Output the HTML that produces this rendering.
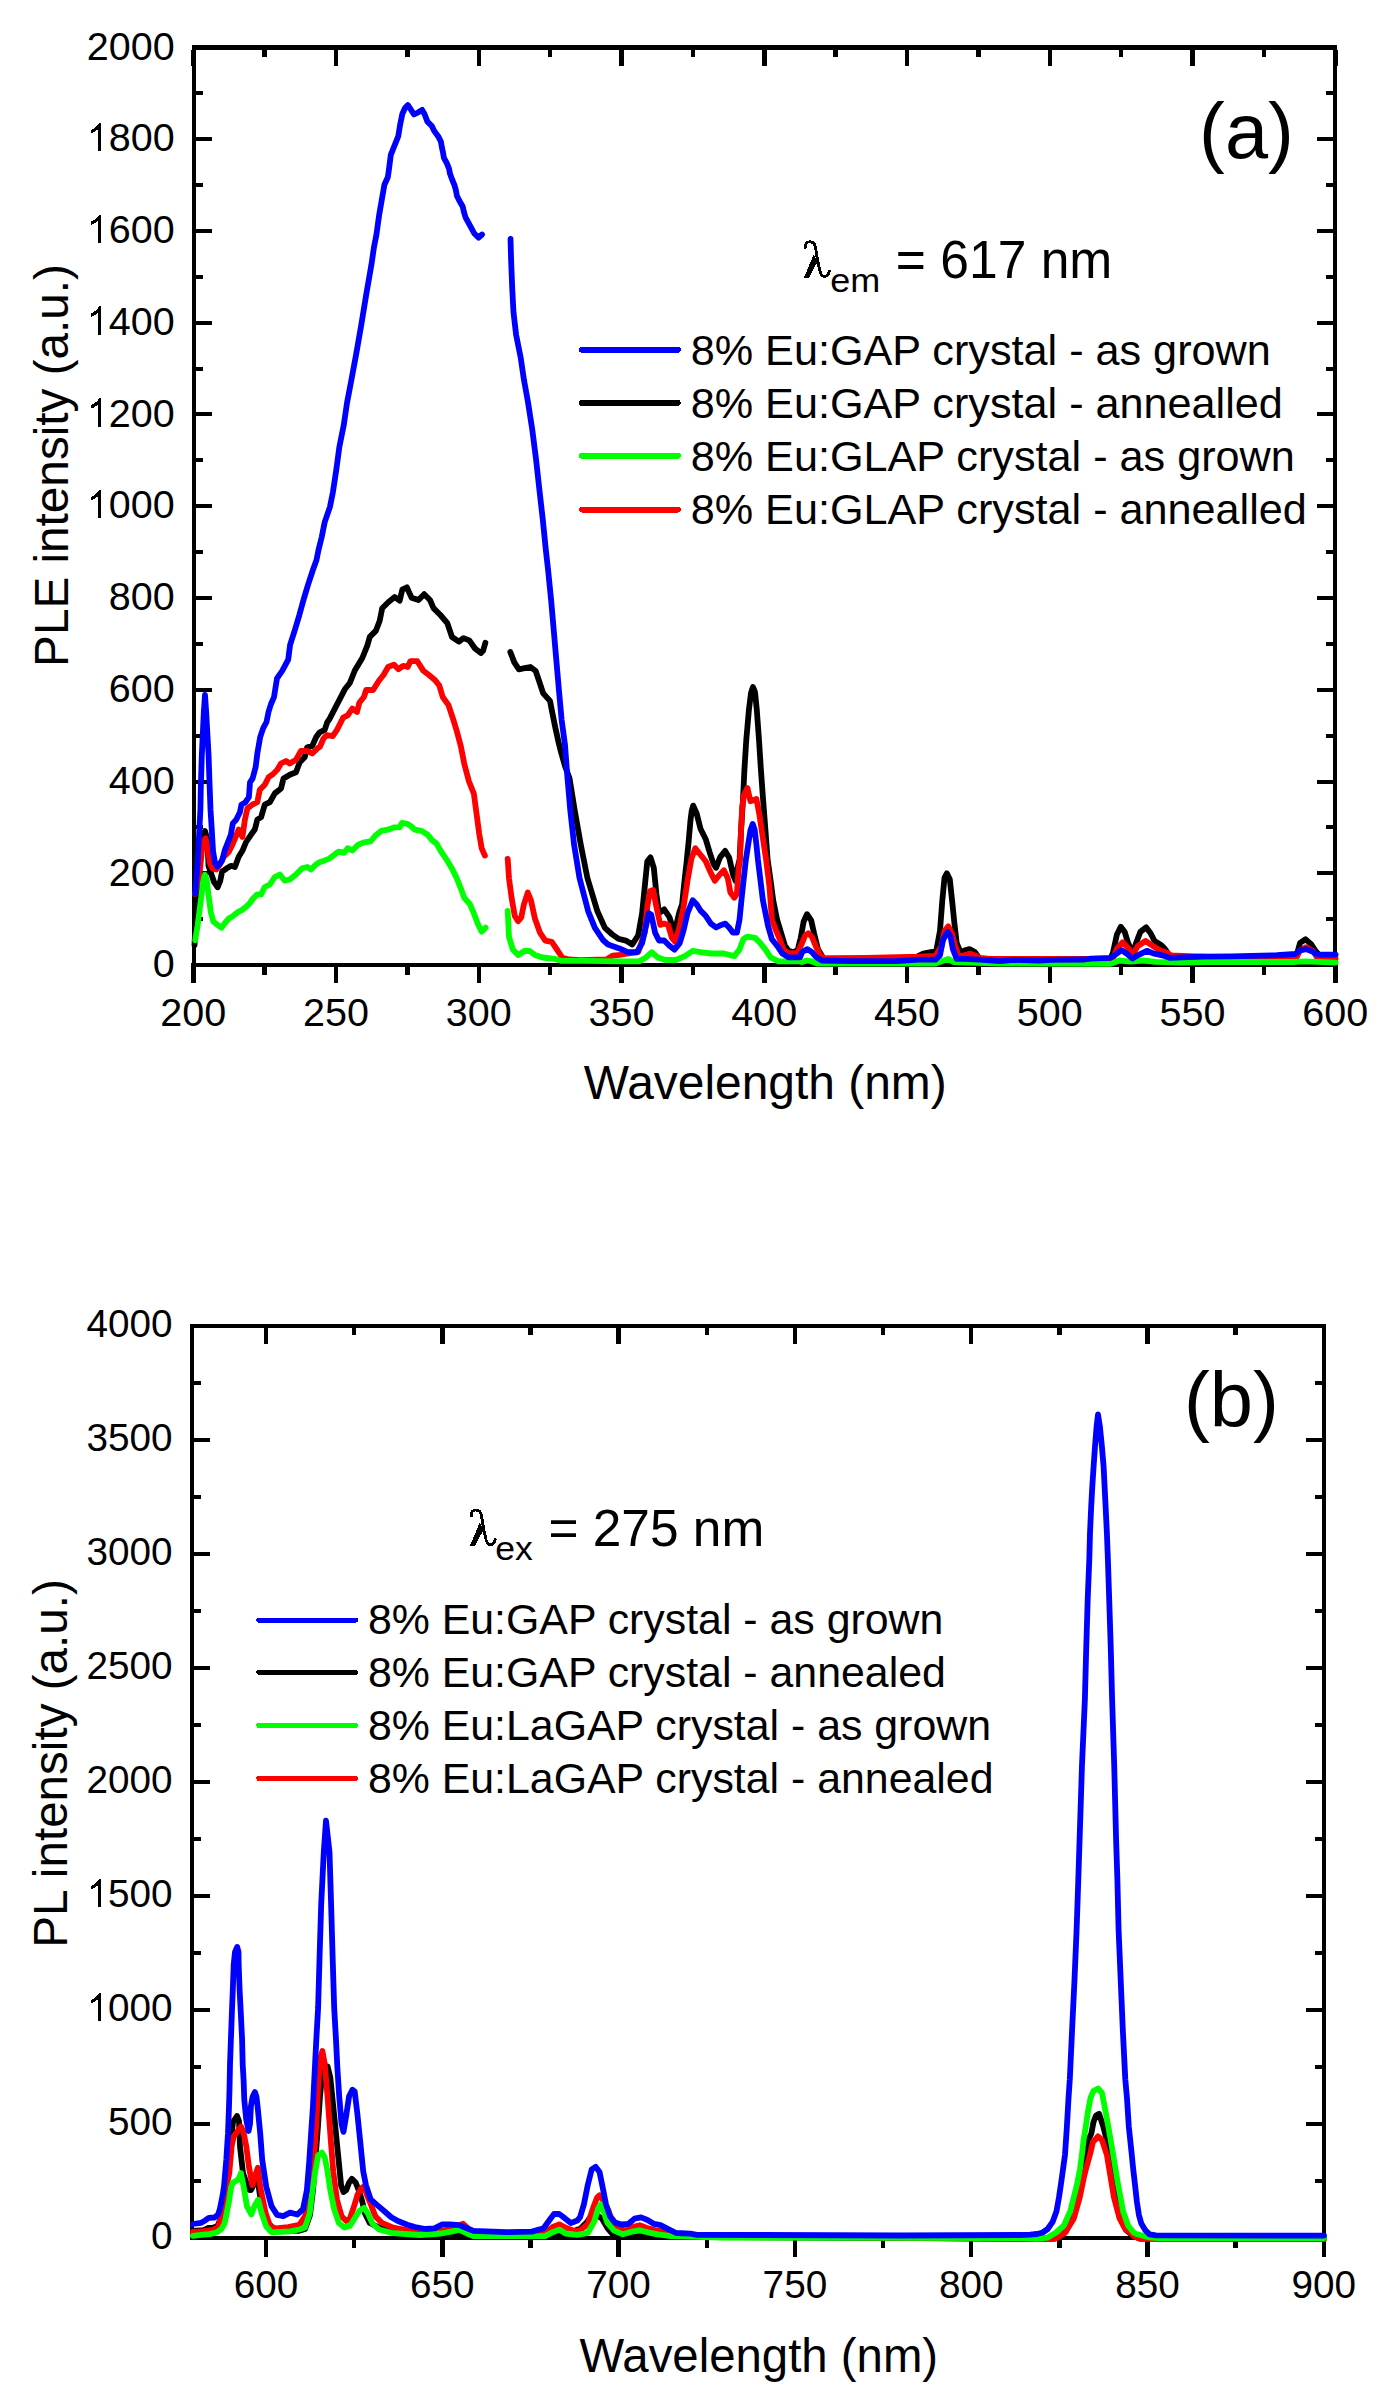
<!DOCTYPE html><html><head><meta charset="utf-8"><style>html,body{margin:0;padding:0;background:#fff;}svg{display:block;}</style></head><body><svg xmlns="http://www.w3.org/2000/svg" width="1386" height="2406" viewBox="0 0 1386 2406" font-family='"Liberation Sans", sans-serif' shape-rendering="crispEdges">
<rect width="1386" height="2406" fill="#fff"/>
<rect x="196" y="963.1" width="16" height="4" fill="#000"/>
<rect x="1317" y="963.1" width="16" height="4" fill="#000"/>
<rect x="196" y="917.21" width="7" height="4" fill="#000"/>
<rect x="1326" y="917.21" width="7" height="4" fill="#000"/>
<rect x="196" y="871.32" width="16" height="4" fill="#000"/>
<rect x="1317" y="871.32" width="16" height="4" fill="#000"/>
<rect x="196" y="825.43" width="7" height="4" fill="#000"/>
<rect x="1326" y="825.43" width="7" height="4" fill="#000"/>
<rect x="196" y="779.54" width="16" height="4" fill="#000"/>
<rect x="1317" y="779.54" width="16" height="4" fill="#000"/>
<rect x="196" y="733.65" width="7" height="4" fill="#000"/>
<rect x="1326" y="733.65" width="7" height="4" fill="#000"/>
<rect x="196" y="687.76" width="16" height="4" fill="#000"/>
<rect x="1317" y="687.76" width="16" height="4" fill="#000"/>
<rect x="196" y="641.87" width="7" height="4" fill="#000"/>
<rect x="1326" y="641.87" width="7" height="4" fill="#000"/>
<rect x="196" y="595.98" width="16" height="4" fill="#000"/>
<rect x="1317" y="595.98" width="16" height="4" fill="#000"/>
<rect x="196" y="550.09" width="7" height="4" fill="#000"/>
<rect x="1326" y="550.09" width="7" height="4" fill="#000"/>
<rect x="196" y="504.2" width="16" height="4" fill="#000"/>
<rect x="1317" y="504.2" width="16" height="4" fill="#000"/>
<rect x="196" y="458.31" width="7" height="4" fill="#000"/>
<rect x="1326" y="458.31" width="7" height="4" fill="#000"/>
<rect x="196" y="412.42" width="16" height="4" fill="#000"/>
<rect x="1317" y="412.42" width="16" height="4" fill="#000"/>
<rect x="196" y="366.53" width="7" height="4" fill="#000"/>
<rect x="1326" y="366.53" width="7" height="4" fill="#000"/>
<rect x="196" y="320.64" width="16" height="4" fill="#000"/>
<rect x="1317" y="320.64" width="16" height="4" fill="#000"/>
<rect x="196" y="274.75" width="7" height="4" fill="#000"/>
<rect x="1326" y="274.75" width="7" height="4" fill="#000"/>
<rect x="196" y="228.86" width="16" height="4" fill="#000"/>
<rect x="1317" y="228.86" width="16" height="4" fill="#000"/>
<rect x="196" y="182.97" width="7" height="4" fill="#000"/>
<rect x="1326" y="182.97" width="7" height="4" fill="#000"/>
<rect x="196" y="137.08" width="16" height="4" fill="#000"/>
<rect x="1317" y="137.08" width="16" height="4" fill="#000"/>
<rect x="196" y="91.19" width="7" height="4" fill="#000"/>
<rect x="1326" y="91.19" width="7" height="4" fill="#000"/>
<rect x="196" y="45.3" width="16" height="4" fill="#000"/>
<rect x="1317" y="45.3" width="16" height="4" fill="#000"/>
<rect x="191" y="963" width="4.5" height="20" fill="#000"/>
<rect x="191" y="50" width="4.5" height="16" fill="#000"/>
<rect x="262.375" y="963" width="4.5" height="12" fill="#000"/>
<rect x="262.375" y="50" width="4.5" height="7" fill="#000"/>
<rect x="333.75" y="963" width="4.5" height="20" fill="#000"/>
<rect x="333.75" y="50" width="4.5" height="16" fill="#000"/>
<rect x="405.125" y="963" width="4.5" height="12" fill="#000"/>
<rect x="405.125" y="50" width="4.5" height="7" fill="#000"/>
<rect x="476.5" y="963" width="4.5" height="20" fill="#000"/>
<rect x="476.5" y="50" width="4.5" height="16" fill="#000"/>
<rect x="547.875" y="963" width="4.5" height="12" fill="#000"/>
<rect x="547.875" y="50" width="4.5" height="7" fill="#000"/>
<rect x="619.25" y="963" width="4.5" height="20" fill="#000"/>
<rect x="619.25" y="50" width="4.5" height="16" fill="#000"/>
<rect x="690.625" y="963" width="4.5" height="12" fill="#000"/>
<rect x="690.625" y="50" width="4.5" height="7" fill="#000"/>
<rect x="762" y="963" width="4.5" height="20" fill="#000"/>
<rect x="762" y="50" width="4.5" height="16" fill="#000"/>
<rect x="833.375" y="963" width="4.5" height="12" fill="#000"/>
<rect x="833.375" y="50" width="4.5" height="7" fill="#000"/>
<rect x="904.75" y="963" width="4.5" height="20" fill="#000"/>
<rect x="904.75" y="50" width="4.5" height="16" fill="#000"/>
<rect x="976.125" y="963" width="4.5" height="12" fill="#000"/>
<rect x="976.125" y="50" width="4.5" height="7" fill="#000"/>
<rect x="1047.5" y="963" width="4.5" height="20" fill="#000"/>
<rect x="1047.5" y="50" width="4.5" height="16" fill="#000"/>
<rect x="1118.88" y="963" width="4.5" height="12" fill="#000"/>
<rect x="1118.88" y="50" width="4.5" height="7" fill="#000"/>
<rect x="1190.25" y="963" width="4.5" height="20" fill="#000"/>
<rect x="1190.25" y="50" width="4.5" height="16" fill="#000"/>
<rect x="1261.62" y="963" width="4.5" height="12" fill="#000"/>
<rect x="1261.62" y="50" width="4.5" height="7" fill="#000"/>
<rect x="1333" y="963" width="4.5" height="20" fill="#000"/>
<rect x="1333" y="50" width="4.5" height="16" fill="#000"/>
<rect x="192" y="45" width="4" height="922" fill="#000"/>
<rect x="1333" y="45" width="4" height="922" fill="#000"/>
<rect x="192" y="45" width="1145" height="5" fill="#000"/>
<rect x="192" y="963" width="1145" height="4" fill="#000"/>
<rect x="194" y="2236" width="16" height="4" fill="#000"/>
<rect x="1306" y="2236" width="16" height="4" fill="#000"/>
<rect x="194" y="2179" width="7" height="4" fill="#000"/>
<rect x="1315" y="2179" width="7" height="4" fill="#000"/>
<rect x="194" y="2122" width="16" height="4" fill="#000"/>
<rect x="1306" y="2122" width="16" height="4" fill="#000"/>
<rect x="194" y="2065" width="7" height="4" fill="#000"/>
<rect x="1315" y="2065" width="7" height="4" fill="#000"/>
<rect x="194" y="2008" width="16" height="4" fill="#000"/>
<rect x="1306" y="2008" width="16" height="4" fill="#000"/>
<rect x="194" y="1951" width="7" height="4" fill="#000"/>
<rect x="1315" y="1951" width="7" height="4" fill="#000"/>
<rect x="194" y="1894" width="16" height="4" fill="#000"/>
<rect x="1306" y="1894" width="16" height="4" fill="#000"/>
<rect x="194" y="1837" width="7" height="4" fill="#000"/>
<rect x="1315" y="1837" width="7" height="4" fill="#000"/>
<rect x="194" y="1780" width="16" height="4" fill="#000"/>
<rect x="1306" y="1780" width="16" height="4" fill="#000"/>
<rect x="194" y="1723" width="7" height="4" fill="#000"/>
<rect x="1315" y="1723" width="7" height="4" fill="#000"/>
<rect x="194" y="1666" width="16" height="4" fill="#000"/>
<rect x="1306" y="1666" width="16" height="4" fill="#000"/>
<rect x="194" y="1609" width="7" height="4" fill="#000"/>
<rect x="1315" y="1609" width="7" height="4" fill="#000"/>
<rect x="194" y="1552" width="16" height="4" fill="#000"/>
<rect x="1306" y="1552" width="16" height="4" fill="#000"/>
<rect x="194" y="1495" width="7" height="4" fill="#000"/>
<rect x="1315" y="1495" width="7" height="4" fill="#000"/>
<rect x="194" y="1438" width="16" height="4" fill="#000"/>
<rect x="1306" y="1438" width="16" height="4" fill="#000"/>
<rect x="194" y="1381" width="7" height="4" fill="#000"/>
<rect x="1315" y="1381" width="7" height="4" fill="#000"/>
<rect x="194" y="1324" width="16" height="4" fill="#000"/>
<rect x="1306" y="1324" width="16" height="4" fill="#000"/>
<rect x="263.75" y="2236" width="4.5" height="21" fill="#000"/>
<rect x="263.75" y="1328" width="4.5" height="16" fill="#000"/>
<rect x="351.9" y="2236" width="4.5" height="12" fill="#000"/>
<rect x="351.9" y="1328" width="4.5" height="7" fill="#000"/>
<rect x="440.05" y="2236" width="4.5" height="21" fill="#000"/>
<rect x="440.05" y="1328" width="4.5" height="16" fill="#000"/>
<rect x="528.2" y="2236" width="4.5" height="12" fill="#000"/>
<rect x="528.2" y="1328" width="4.5" height="7" fill="#000"/>
<rect x="616.35" y="2236" width="4.5" height="21" fill="#000"/>
<rect x="616.35" y="1328" width="4.5" height="16" fill="#000"/>
<rect x="704.5" y="2236" width="4.5" height="12" fill="#000"/>
<rect x="704.5" y="1328" width="4.5" height="7" fill="#000"/>
<rect x="792.65" y="2236" width="4.5" height="21" fill="#000"/>
<rect x="792.65" y="1328" width="4.5" height="16" fill="#000"/>
<rect x="880.8" y="2236" width="4.5" height="12" fill="#000"/>
<rect x="880.8" y="1328" width="4.5" height="7" fill="#000"/>
<rect x="968.95" y="2236" width="4.5" height="21" fill="#000"/>
<rect x="968.95" y="1328" width="4.5" height="16" fill="#000"/>
<rect x="1057.1" y="2236" width="4.5" height="12" fill="#000"/>
<rect x="1057.1" y="1328" width="4.5" height="7" fill="#000"/>
<rect x="1145.25" y="2236" width="4.5" height="21" fill="#000"/>
<rect x="1145.25" y="1328" width="4.5" height="16" fill="#000"/>
<rect x="1233.4" y="2236" width="4.5" height="12" fill="#000"/>
<rect x="1233.4" y="1328" width="4.5" height="7" fill="#000"/>
<rect x="1321.55" y="2236" width="4.5" height="21" fill="#000"/>
<rect x="1321.55" y="1328" width="4.5" height="16" fill="#000"/>
<rect x="190" y="1324" width="4" height="916" fill="#000"/>
<rect x="1322" y="1324" width="4" height="916" fill="#000"/>
<rect x="190" y="1324" width="1136" height="4" fill="#000"/>
<rect x="190" y="2236" width="1136" height="4" fill="#000"/>
<g shape-rendering="auto">
<polyline points="194.5,945 195.5,925 197,895 199.5,865 202,845 205,831 207.5,840 208.5,866 211,873 214,882 217.7,887.3 220.2,881 222.1,871.7 226.4,868.6 231.1,865.8 234.9,867 238.6,857 242.4,850.8 246.1,842 251.1,834.6 254.8,829.6 257.3,819.6 261.1,817.1 264.8,804.7 269.8,802.2 274.8,793.4 281,788.5 283.5,778.5 289.8,774.7 296,772.2 299.7,762.3 304.7,757.3 307.2,747.3 312.2,746.1 316,737.3 319.7,732.3 324.7,729.9 327.2,722.4 329.7,718.6 344.8,689.3 349.8,683 354.8,670.5 362.3,658 367.3,645.6 369.8,636.9 376,630.6 379.7,620.7 382.2,608.2 388.5,602 394.7,597 399.7,600.7 402.3,589.6 406.9,587.3 411.5,597.7 418.5,600 424.2,594.2 430,600 433.5,608.1 440.4,615 447.3,623.1 452,637 458.9,641.6 463.5,638.1 469.3,640.4 475,648.5 480.8,653.1 483.1,650.8 485.4,642.7" fill="none" stroke="#000000" stroke-width="5.8" stroke-linejoin="round" stroke-linecap="round"/>
<polyline points="510.3,652 514.3,662.4 518.9,669.3 524.7,668.1 530.4,667 535.7,671 539.5,682.2 543.2,693.4 550,700.9 552.2,712.1 555.2,727.1 558.5,742 561,752 565,766 569.5,778.3 574.9,811.5 580.8,844.8 587.4,878 597.4,911.3 604.9,927.9 612.3,934.5 618.2,938.7 625.8,940.6 632.3,944.5 638.2,935.3 642.1,913.2 644.7,887.3 647.3,861.3 650.5,857.4 653.8,867.8 656.4,893.8 659,913.2 664.2,909.4 669.4,917.1 674.5,932.7 679.2,912.7 682.1,904.3 684.2,883.5 686.5,862.7 688.6,842 690.4,821.2 691.7,810.8 693.2,805.6 696.6,813.2 700.5,828.8 705.7,839.2 709.6,852.2 713.5,863.9 716.1,867.8 720,857.4 725.2,850.9 729.1,857.4 733,874.3 735.6,880.8 737.5,868 739.6,859.5 741.1,829.6 743,799.7 744.4,769.8 746.3,739.8 748.9,709.9 751,693 753,687 755,692 756.8,709.9 759,739.8 760.9,769.8 763.1,799.7 765.4,829.6 767.6,859.5 770.5,880 773.2,900.3 777.1,919.7 781,932.7 784.9,945.7 788.8,950.9 794,952.2 797.9,949.6 800,940.5 800.6,938.5 803.6,921.8 807,914.2 811.2,920.3 814.2,933.9 818,949.1 823.3,958.2 841.5,958.5 914.2,958.2 923.3,953.6 930.9,952.1 936.2,951.4 940,930.9 942.3,900.6 944.5,877.9 946.8,873.3 949.8,879.4 952.1,900.6 954.4,923.3 956.7,943 960.5,952.1 964.2,950.6 969.5,949.1 974.8,952.1 979.4,958.2 1000,959.7 1110.4,959 1113,952.7 1116.9,934.5 1120.8,926.8 1124.7,931.9 1127.9,942.3 1132.5,953.4 1136.4,942.3 1140.3,931.9 1146.1,927.4 1150.6,933.2 1154.5,941 1161,944.9 1164.9,948.8 1168.8,954.7 1180,958 1296.4,956 1300.1,942.9 1305.6,939.3 1311.1,944.2 1316,951.5 1320,956 1335,956" fill="none" stroke="#000000" stroke-width="5.8" stroke-linejoin="round" stroke-linecap="round"/>
<polyline points="195,894 200,869.5 202.5,844.6 205.6,838.3 208,850.8 210,863.3 212.4,868.3 216.2,869.5 220,864.5 223.7,857 228.7,852 232.4,844.6 236.1,835.8 238.6,829.6 242.4,837 244.9,819.6 247.4,808.4 252.3,804.7 257.3,802.2 259.8,789.7 264.8,784.7 268.6,777.2 272.3,774.7 277.3,769.8 281,763.5 286,761 289.8,763.5 296,759.8 301,751 307.2,751 312.2,753.5 317.2,748.6 320,746.6 323.5,738.5 326.9,735 332.7,736.2 337.3,729.3 343.1,717.7 347.7,715.4 352.3,708.5 357,712 359.3,702.7 363.9,697 366.2,690 373.1,690 378.9,680.8 383.5,675 388.1,667 393.9,664.6 398.5,669.2 403.1,665.8 407.7,667 410.4,661.2 417.3,661.2 423.1,670.4 428.9,675 434.6,679.7 439.3,685.5 442.7,697 448.5,705.1 453.1,719 456.3,729.3 460.9,746.6 464.3,763.9 468.9,781.2 473.9,793.9 476.5,813.4 479.1,832.9 481.7,848.4 484.9,855.6" fill="none" stroke="#ff0000" stroke-width="5.8" stroke-linejoin="round" stroke-linecap="round"/>
<polyline points="507.7,858.8 509,878.3 511.6,897.8 514.8,916 518.1,921.2 521.3,917.3 523.9,904.3 527.8,892.6 531,900.4 534.9,918.6 540.1,932.9 545.3,940.6 551.8,941.9 557,949.7 562.2,957.5 568.7,959.5 580.4,960.1 606.4,959.5 612.9,955.6 620,954.8 627.8,953.5 638.2,952.2 644.7,932.7 647.3,906.8 649.9,891.2 653.1,889.9 656.4,906.8 660.3,924.9 664.2,923.6 668.1,924.9 671.9,937.9 675.2,941.8 679.7,926.2 683.6,906.8 687.5,880.8 691.4,858.7 695.3,848.3 700.5,854.8 705.7,861.3 710.9,873 714.8,880.8 720,874.3 723.9,870.4 727.8,878.2 730.4,892.5 734.3,897.7 736.9,893.8 738.5,870 740,859.5 741.1,829.6 742.2,807.1 744,795 747.4,788 750.4,801.2 753,800.5 756.4,799 759.4,814.6 761.6,829.6 766.1,859.5 769.5,887 771.9,919.7 775.8,930.1 779.7,939.2 783.6,949.6 788.8,953.5 797.6,952.9 802.1,943 805.2,935.5 808.2,933.2 812,937 815.8,946.1 820.3,955.2 824.8,958.9 918.8,956.7 935.5,955.9 941.5,946.1 944.5,930.9 948.3,926.4 952.1,933.9 955.2,946.1 959,956.7 964.2,955.2 970.3,953.6 976.4,955.9 980.9,958.9 1110,959 1113,957.9 1116.9,948.8 1122.7,942.3 1128.6,948.8 1132.5,954.7 1137.7,946.2 1145.5,941 1153.2,946.2 1161,950.8 1167.5,952.7 1170.1,955.3 1276.7,959.5 1296.4,957.7 1300.1,950.3 1306.2,947.2 1313.6,951.5 1317.2,957.7 1335.6,958.9" fill="none" stroke="#ff0000" stroke-width="5.8" stroke-linejoin="round" stroke-linecap="round"/>
<polyline points="195.2,940.3 197.7,924.7 200.9,899.8 203,882 204.9,874.8 206.8,880 208.3,893.5 210.8,912.2 213.3,921.5 217,924.5 221.4,927.8 225,923 228.9,918.4 233,916 237.7,912.2 241,910.6 246.1,906.9 250.1,902.9 252.3,899.4 257.3,894.4 261.1,894.4 264.8,887 269.8,884.5 274.8,877 279.8,874.5 284.8,880.7 289.8,879.5 296,874.5 302.2,868.3 307.2,867 311,869.5 316,864.5 320,862 323.5,860.9 329.2,858.6 333.9,855.1 338.5,851.7 344.2,852.8 347.7,848.2 352.3,850.5 358.1,844.7 363.9,842.4 370.8,841.3 375.4,835.5 381.2,830.9 388.1,829.7 393.9,827.4 399.7,827.4 402,822.8 407.7,824 411.2,826.3 414.7,829.7 421.6,830.9 427.4,834.4 432,840.1 436.6,843.6 441.2,851.7 445.9,858.6 451.6,867.9 456.3,877.1 460.9,888.6 464.3,897.9 470,904.3 473.9,913.4 477.8,923.8 481.7,931.6 485.6,927.7" fill="none" stroke="#00ff00" stroke-width="5.8" stroke-linejoin="round" stroke-linecap="round"/>
<polyline points="507.7,910.8 509,936.8 512.9,949.7 518.1,954.9 524.5,951 529.7,951 534.9,954.9 542.7,957.5 554.4,958.8 560.9,960.8 586.9,960.8 620,961.3 639.5,961.3 646,957.4 651.8,952.2 657.7,957.4 665.5,960 675.8,960 684.9,956.1 692.7,950.9 700.5,952.2 710.9,953.5 723.9,953.5 734.3,956.1 739.5,949.6 743.4,939.2 747.3,936.6 755.1,937.9 760.3,943.1 765.5,949.6 770.6,957.4 778.4,961.3 800,961.3 802.1,962 806.7,960.5 811.2,961.2 817.3,963.5 935.5,963.5 941.5,961.2 948.3,958.9 953.6,962 1000,963.5 1110.4,963.8 1119.5,960.5 1129.9,961.6 1142.9,960.5 1155.8,961.8 1180,962.5 1206.8,962 1292.7,962 1305,961.3 1335.6,962.6" fill="none" stroke="#00ff00" stroke-width="5.8" stroke-linejoin="round" stroke-linecap="round"/>
<polyline points="195.2,893.5 197.7,862.3 199.3,831.2 200.4,809.7 200.8,788.1 201.8,755.7 203.8,712.4 205,695 206.2,712.4 208.6,755.7 209.7,788.1 210.5,809.7 211.8,830 213,851 215,863 217.5,866.5 222,860.8 225,849.6 228,842.1 230.9,834.6 232.8,823.4 236.2,819.7 239.9,812.2 241.4,804.7 245.2,802.5 248.9,797.2 250,782.3 252.6,778.5 255.6,767.3 257.5,752.4 260.1,737.4 263.1,728.4 266.5,722 268.5,712 271,704 274,697.1 277,678.4 282.2,670.9 288.2,659.7 290.1,644.8 294.9,629.8 299.4,614.8 303.5,599.9 308,584.9 312.9,570 316.5,560 318.5,550 321.7,537.1 324.7,522.1 329.9,507.1 332.9,492.2 336.3,469.8 339.3,447.3 343.8,424.9 347.1,402.4 351,382 356.1,354.6 361.3,324.7 366.2,294.8 371.4,264.8 374,247 376.4,234.9 379.2,214.7 381.8,199.7 384.4,184.8 387.8,177.3 388.9,169.8 390.8,154.8 393.8,147.4 398.3,136.1 400.1,124.9 402.4,113.7 405,108 407.9,105 410.5,109 414,114.5 418,112.5 422.1,109.9 424.5,114 427.4,121.6 431.8,126 434.1,130.8 438.1,136.2 440.9,141.6 441.8,147 443,152.4 443.9,157.8 446.8,163.2 449,168.6 450.1,174.1 452.1,179.5 454.4,184.9 455.9,190.3 456.9,195.7 459.5,201.1 462.7,206.5 463.9,211.9 465.5,217.3 468.4,222.7 471.4,228.1 474.3,233.5 478.6,237.6 482,234.5" fill="none" stroke="#0000ff" stroke-width="5.8" stroke-linejoin="round" stroke-linecap="round"/>
<polyline points="510.5,239 511.1,259.9 512.3,289.8 513.5,312.3 516.1,334.7 520.6,357.2 523.9,379.6 527.8,401 532.3,429.9 536.1,459.8 539.4,489.8 542.8,519.7 545.8,549.6 548.1,570 551.1,599.9 553.7,629.8 556.3,659.8 558.9,689.7 561.6,719.6 565,745 567.5,778.3 570.4,811.5 574.1,844.8 579.5,878 588.2,911.3 594.9,927.9 603.2,940.3 608,944.5 619.4,948.4 627.8,952.2 636.9,952.2 642.1,943.1 646,926.2 648.6,913.2 651.2,914.5 655.1,932.7 659,940.5 664.2,940.5 669.4,945.7 674.5,949.6 679.7,943.1 683.6,930.1 687.5,913.2 692.7,900.3 696.6,904.2 700.5,910.6 705.7,915.8 710.9,923.6 716.1,927.5 721.3,924.9 725.2,923.6 729.1,927.5 733,932.7 736.9,932.7 739.5,919.7 742.1,893.8 745.9,859.5 748.2,844.5 750.5,830 752.7,824 754.7,830 756.4,844.5 757.9,859.5 762.9,900.3 768.1,926.2 771.9,939.2 777.1,945.7 782.3,953.5 788.8,957.4 800,957.4 802.1,952.1 807.4,949.1 812,952.1 815.8,956.7 821.8,960.5 850.6,961.2 896.1,961.2 918.8,959.7 935.5,959.7 940,955.2 943,940 947.6,931.7 950.6,937 952.9,949.1 956.7,958.9 964.2,958.9 979.4,959.7 1000,961.2 1013,959.9 1039,960.5 1051.9,959.9 1084.4,959.5 1090.9,958.6 1110.4,957.9 1114.3,955.3 1121.4,950.1 1127.3,954 1132.5,958.6 1137.7,955.3 1146.8,950.8 1153.2,953.4 1162.3,955.3 1170.1,957.9 1200.7,956.7 1231.3,956.4 1276.7,955.2 1295.2,954 1300.1,950.3 1306.2,949.1 1312.3,951.5 1317.2,954.6 1335.6,954.6" fill="none" stroke="#0000ff" stroke-width="5.8" stroke-linejoin="round" stroke-linecap="round"/>
<polyline points="193.6,2230.9 203.7,2230.1 208,2228 213.4,2227.6 217.4,2226.2 221,2218 225,2195 228.5,2170 231,2140 233,2122 237,2116 239,2121 240,2146.5 243,2173.1 248.9,2189.8 251,2190 254,2184 257.6,2178.5 259.6,2193.1 262.9,2213 266,2221 273.4,2228.4 288,2230.5 299.1,2230.8 305,2229 310,2215 313,2190 316.3,2147.9 318.1,2124.4 320,2096.3 321.9,2077.5 324.7,2066.3 327.5,2066.3 330.3,2077.5 333.2,2105.7 336,2133.8 338.8,2162 341.1,2185.4 343.5,2192 346.3,2190.1 349.1,2182.6 351.9,2178.8 355.7,2182.6 359.4,2192 362.2,2201.4 365,2213.5 369.7,2222.9 379.1,2227.6 393.2,2232.3 420,2234.2 447.5,2236.1 461.8,2233.5 469.5,2236.8 551.4,2236.8 559.2,2232.9 565.6,2236.1 577.3,2229.6 580,2229.1 586.5,2222.6 593,2213.5 598.2,2216.1 602.1,2218.7 607.3,2227.8 613.8,2235.6 631.9,2236.9 639.7,2234.9 648.8,2236.9 1020,2238.5 1054.6,2238.5 1060,2236.5 1066,2231 1073,2211 1080,2183 1085.8,2158.3 1088,2140.7 1091.3,2133.6 1093.5,2122 1096,2115.5 1099.1,2113.8 1103.3,2126.5 1106.9,2140.7 1110,2160 1113,2180 1116,2200 1120,2218 1126,2230 1134,2236.5 1140,2238.5 1324,2238.5" fill="none" stroke="#000000" stroke-width="5.8" stroke-linejoin="round" stroke-linecap="round"/>
<polyline points="192.9,2232 204.4,2231.2 213.4,2229.8 218.1,2226.9 219.9,2221.5 221.4,2216.1 222.5,2212.5 224.5,2200 226.8,2185 229.3,2173.1 231.6,2146.5 233.6,2136.6 237,2132 241,2126.6 243.5,2132 246.3,2146.5 248.9,2166.5 252.3,2185.1 255,2176 257.9,2167.8 260.2,2186.5 265.6,2213 270.2,2226.4 275.8,2228.5 288.1,2227.1 299.4,2224.8 305,2216.4 308.8,2199.5 311.6,2180.7 314.4,2152.6 316.3,2124.4 318.1,2086.9 320,2058.8 322.4,2051 324.7,2063.5 327.5,2096.3 330.3,2133.8 333.2,2171.3 336.9,2199.5 341.6,2216.4 346.3,2221 350,2218.2 353.8,2207 357.5,2194.8 361.3,2188.2 364.1,2186.3 366.9,2194.8 370.7,2204.2 375.4,2216.4 381.9,2222.9 393.2,2227.6 407.3,2230.4 420,2232.3 434.5,2232.2 447.5,2229.6 463.1,2223.8 469.5,2229.6 480,2233.5 544.9,2232.9 552.7,2227 559.2,2224.4 567,2228.3 574.7,2230.9 580,2230.4 587.8,2223.9 593,2208.3 596.9,2197.9 599.5,2195.3 603.4,2200.5 608.6,2210.9 612.5,2222.6 619,2229.1 625.5,2230.4 634.5,2226.5 639.7,2225.2 646.2,2227.8 655.3,2230.4 664.4,2231.7 677.4,2235.6 1020,2239 1053.5,2239 1056.9,2238.2 1065.3,2232.5 1073.8,2218.4 1079.8,2197.2 1084.2,2176 1086,2168.9 1089.9,2154.8 1093,2142 1098,2136.4 1102,2140 1106.9,2154.8 1110.4,2176 1113.9,2197.2 1119.6,2218.4 1125.2,2229 1130,2232.3 1133.7,2236.1 1140,2238.9 1324,2239" fill="none" stroke="#ff0000" stroke-width="5.8" stroke-linejoin="round" stroke-linecap="round"/>
<polyline points="192.9,2235.9 200.8,2234.8 209.8,2234.1 217.1,2232.3 221.7,2228.7 224.6,2223.3 226.1,2216.1 227.5,2208.9 229,2201.6 230,2194.4 231.1,2187.2 232.6,2182.9 236.9,2180.5 239,2178.1 241,2173.1 243.6,2186.5 247,2206.4 251.3,2214.4 254.5,2206 258.2,2199.8 261.6,2213 266.2,2226.4 271.6,2232.4 290,2231.4 299.4,2229.5 305,2227.6 309.7,2213.5 312.5,2190.1 315.3,2171.3 318.1,2155.4 321.9,2152.6 324.7,2157.3 327.5,2171.3 330.3,2190.1 334.1,2208.9 338.8,2222.9 344.4,2227.6 350,2225.7 354.7,2218.2 359.4,2210.7 364.1,2207.9 367.9,2213.5 372.6,2223.9 379.1,2229.5 393.2,2233.2 420,2235 441,2233.5 451.4,2231.6 459.2,2229.6 467,2233.5 473.4,2236.1 544.9,2236.1 552.7,2232.2 559.2,2229.6 565.6,2233.5 577.3,2234.8 580,2234.3 587.8,2233 594.3,2221.3 598.2,2208.3 600.8,2204.4 603.4,2210.9 607.3,2222.6 613.8,2230.4 622.9,2234.3 631.9,2231.7 639.7,2230.4 647.5,2232.3 657.9,2234.3 670.9,2236.2 722.9,2237.5 1020,2238 1037.1,2238.9 1047.7,2237.5 1056.1,2232.5 1063.9,2225.5 1070.3,2211.3 1077.3,2183.1 1080,2169 1081.9,2154.8 1083.5,2140.7 1085.8,2126.5 1087.8,2112.4 1090.5,2098 1093.5,2091 1098,2088.4 1102,2093 1104.4,2105.3 1108.3,2126.5 1113.2,2154.8 1117.8,2183.1 1123.1,2211.3 1128.1,2225.5 1133.7,2232.5 1136.5,2234 1143,2235.7 1149.5,2237.4 1158.5,2238 1324,2238" fill="none" stroke="#00ff00" stroke-width="5.8" stroke-linejoin="round" stroke-linecap="round"/>
<polyline points="192.9,2224 200.8,2222.9 205.2,2220.4 208.8,2217.9 214.5,2217.5 218.1,2214.6 219.9,2208.9 221.4,2201.6 222.8,2194.4 224,2186.5 226.3,2159.8 228,2133.2 229,2106.6 229.5,2089.5 230,2064.6 230.9,2039.7 231.8,2014.8 232.8,1989.8 233.7,1964.9 235,1952 237.2,1947 238.5,1952 238.7,1964.9 239.6,1989.8 240.9,2014.8 242.1,2039.7 242.7,2064.6 243.6,2080 244.3,2100 246.3,2120 248.6,2131 250,2124 250.9,2106.6 252.5,2097 254.9,2092 256.5,2097 257.6,2106.6 260.2,2133.2 262.2,2159.8 266.2,2186.5 271.6,2206.4 277.1,2214.9 283.2,2216.1 288.1,2213.6 290,2212.6 297.5,2214.5 303.1,2208.9 306.9,2190.1 309.2,2162 311.1,2133.8 313,2105.7 314.4,2077.5 316.3,2040 318.1,2008 319.6,1956 321.2,1904 323.8,1852 326,1820.7 329.5,1852 331.1,1904 332.6,1956 334.2,2008 336,2040 337.4,2068.1 339.2,2096.3 341.6,2124.4 343.5,2131.9 346.3,2115 349.1,2096.3 352.4,2089.7 354.7,2091.6 357.5,2115 360.4,2143.2 363.2,2171.3 366,2185.4 370.7,2199.5 377.2,2205.1 383.8,2210.7 391.3,2217.3 397.9,2221 407.3,2224.8 415,2227 425.4,2229 434.5,2228.3 442.3,2224.4 450.1,2224.4 459.2,2225.1 467,2228.3 473.4,2230.9 505.9,2232.2 531.9,2231.6 543.6,2228.3 550.1,2219.2 554,2214 559.2,2214 564.4,2217.9 570.8,2223.1 577.3,2220.5 580,2217.4 583.9,2204.4 587.8,2184.9 591.7,2169.4 595.6,2166.8 599.5,2171.9 602.7,2187.5 606,2204.4 609.9,2216.1 615.1,2222.6 621.6,2224.5 628.1,2223.9 634.5,2218.7 641,2217.4 647.5,2220 654,2223.9 660.5,2225.2 668.3,2229.1 676.1,2233 690.4,2233.6 696.9,2234.9 760,2235 900,2235.5 1020,2235 1030,2234.7 1037.1,2234 1042.7,2232.5 1047.7,2229 1052.6,2221.9 1056.5,2211.3 1059,2197.2 1061.1,2183.1 1065,2154.8 1066.9,2126.5 1068.5,2098.3 1069.8,2079.5 1072.1,2029.6 1074.5,1979.8 1076.6,1929.9 1078.3,1880 1079.6,1839.6 1082,1764.8 1084.9,1699 1086.2,1649.2 1087.7,1599.4 1089.3,1559.7 1090,1533.1 1091.2,1506.5 1092.3,1486.5 1093.6,1466.5 1095,1446.6 1096.6,1426.6 1098,1414.5 1099.9,1426.6 1101.9,1446.6 1103.6,1466.5 1104.6,1486.5 1105.6,1506.5 1106.9,1533.1 1107.9,1559.7 1109.2,1599.4 1110.8,1649.2 1112.1,1699 1114.2,1764.8 1116.1,1839.6 1117.4,1880 1118.6,1929.9 1120.7,1979.8 1122.8,2029.6 1125.3,2079.5 1127,2098.3 1128.8,2126.5 1131.5,2152 1133,2167.3 1135,2184.6 1136.9,2201.9 1138.9,2214.9 1141.3,2223.6 1145.2,2230.1 1149.5,2234.4 1156,2235.4 1324,2235.6" fill="none" stroke="#0000ff" stroke-width="5.8" stroke-linejoin="round" stroke-linecap="round"/>
</g>
<text x="152.63" y="977.30" font-size="39.5">0</text>
<text x="108.70" y="885.52" font-size="39.5">2</text>
<text x="130.66" y="885.52" font-size="39.5">0</text>
<text x="152.63" y="885.52" font-size="39.5">0</text>
<text x="108.70" y="793.74" font-size="39.5">4</text>
<text x="130.66" y="793.74" font-size="39.5">0</text>
<text x="152.63" y="793.74" font-size="39.5">0</text>
<text x="108.70" y="701.96" font-size="39.5">6</text>
<text x="130.66" y="701.96" font-size="39.5">0</text>
<text x="152.63" y="701.96" font-size="39.5">0</text>
<text x="108.70" y="610.18" font-size="39.5">8</text>
<text x="130.66" y="610.18" font-size="39.5">0</text>
<text x="152.63" y="610.18" font-size="39.5">0</text>
<path d="M763,0 L583,0 L583,1147 Q518,1085 412,1023 Q306,961 222,930 L222,1104 Q373,1175 486,1276 Q599,1377 646,1472 L763,1472 Z" transform="translate(86.73 518.40) scale(0.01929 -0.01929)"/>
<text x="108.70" y="518.40" font-size="39.5">0</text>
<text x="130.66" y="518.40" font-size="39.5">0</text>
<text x="152.63" y="518.40" font-size="39.5">0</text>
<path d="M763,0 L583,0 L583,1147 Q518,1085 412,1023 Q306,961 222,930 L222,1104 Q373,1175 486,1276 Q599,1377 646,1472 L763,1472 Z" transform="translate(86.73 426.62) scale(0.01929 -0.01929)"/>
<text x="108.70" y="426.62" font-size="39.5">2</text>
<text x="130.66" y="426.62" font-size="39.5">0</text>
<text x="152.63" y="426.62" font-size="39.5">0</text>
<path d="M763,0 L583,0 L583,1147 Q518,1085 412,1023 Q306,961 222,930 L222,1104 Q373,1175 486,1276 Q599,1377 646,1472 L763,1472 Z" transform="translate(86.73 334.84) scale(0.01929 -0.01929)"/>
<text x="108.70" y="334.84" font-size="39.5">4</text>
<text x="130.66" y="334.84" font-size="39.5">0</text>
<text x="152.63" y="334.84" font-size="39.5">0</text>
<path d="M763,0 L583,0 L583,1147 Q518,1085 412,1023 Q306,961 222,930 L222,1104 Q373,1175 486,1276 Q599,1377 646,1472 L763,1472 Z" transform="translate(86.73 243.06) scale(0.01929 -0.01929)"/>
<text x="108.70" y="243.06" font-size="39.5">6</text>
<text x="130.66" y="243.06" font-size="39.5">0</text>
<text x="152.63" y="243.06" font-size="39.5">0</text>
<path d="M763,0 L583,0 L583,1147 Q518,1085 412,1023 Q306,961 222,930 L222,1104 Q373,1175 486,1276 Q599,1377 646,1472 L763,1472 Z" transform="translate(86.73 151.28) scale(0.01929 -0.01929)"/>
<text x="108.70" y="151.28" font-size="39.5">8</text>
<text x="130.66" y="151.28" font-size="39.5">0</text>
<text x="152.63" y="151.28" font-size="39.5">0</text>
<text x="86.73" y="59.50" font-size="39.5">2</text>
<text x="108.70" y="59.50" font-size="39.5">0</text>
<text x="130.66" y="59.50" font-size="39.5">0</text>
<text x="152.63" y="59.50" font-size="39.5">0</text>
<text x="193.25" y="1025.7" font-size="39.5" text-anchor="middle" >200</text>
<text x="336" y="1025.7" font-size="39.5" text-anchor="middle" >250</text>
<text x="478.75" y="1025.7" font-size="39.5" text-anchor="middle" >300</text>
<text x="621.5" y="1025.7" font-size="39.5" text-anchor="middle" >350</text>
<text x="764.25" y="1025.7" font-size="39.5" text-anchor="middle" >400</text>
<text x="907" y="1025.7" font-size="39.5" text-anchor="middle" >450</text>
<text x="1049.75" y="1025.7" font-size="39.5" text-anchor="middle" >500</text>
<text x="1192.5" y="1025.7" font-size="39.5" text-anchor="middle" >550</text>
<text x="1335.25" y="1025.7" font-size="39.5" text-anchor="middle" >600</text>
<text x="583.8" y="1098.8" font-size="47.9" text-anchor="start" >Wavelength (nm)</text>
<text x="0" y="0" font-size="47.7" text-anchor="start" transform="translate(67.9 666.9) rotate(-90)">PLE intensity (a.u.)</text>
<text x="1199.1" y="157.8" font-size="77.5" text-anchor="start" >(a)</text>
<line x1="582" y1="349.8" x2="677.7" y2="349.8" stroke="#0000ff" stroke-width="6" stroke-linecap="round"/>
<text x="690.7" y="364.5" font-size="43.2" text-anchor="start" >8% Eu:GAP crystal - as grown</text>
<line x1="582" y1="402.9" x2="677.7" y2="402.9" stroke="#000000" stroke-width="6" stroke-linecap="round"/>
<text x="690.7" y="417.6" font-size="43.2" text-anchor="start" >8% Eu:GAP crystal - annealled</text>
<line x1="582" y1="455.7" x2="677.7" y2="455.7" stroke="#00ff00" stroke-width="6" stroke-linecap="round"/>
<text x="690.7" y="470.7" font-size="43.2" text-anchor="start" >8% Eu:GLAP crystal - as grown</text>
<line x1="582" y1="509.5" x2="677.7" y2="509.5" stroke="#ff0000" stroke-width="6" stroke-linecap="round"/>
<text x="690.7" y="524" font-size="43.2" text-anchor="start" >8% Eu:GLAP crystal - annealled</text>
<path d="M805.4,248.6 C805.0,244 806.6,241.8 809.8,241.8 C813.2,241.8 814.9,243.8 815.5,247.5 L817.6,260.5 L819.3,268.5 C820.2,273.5 821.9,276.4 824.6,276.4 C827.2,276.4 828.9,273.6 829.4,270.2" fill="none" stroke="#000" stroke-width="2.9"/><path d="M813.7,254.3 L817.6,261.5 L808.9,277.8 L803.9,277.8 Z"/>
<text x="0" y="0" font-size="36" text-anchor="start" transform="translate(830.2 292.2) scale(1 0.92)">em</text>
<text x="0" y="0" font-size="51.6" text-anchor="start" transform="translate(895.8 278.3) scale(1 1.035)">= 617 nm</text>
<text x="151.08" y="2249.30" font-size="38.7">0</text>
<text x="108.03" y="2135.30" font-size="38.7">5</text>
<text x="129.55" y="2135.30" font-size="38.7">0</text>
<text x="151.08" y="2135.30" font-size="38.7">0</text>
<path d="M763,0 L583,0 L583,1147 Q518,1085 412,1023 Q306,961 222,930 L222,1104 Q373,1175 486,1276 Q599,1377 646,1472 L763,1472 Z" transform="translate(86.51 2021.30) scale(0.01890 -0.01890)"/>
<text x="108.03" y="2021.30" font-size="38.7">0</text>
<text x="129.55" y="2021.30" font-size="38.7">0</text>
<text x="151.08" y="2021.30" font-size="38.7">0</text>
<path d="M763,0 L583,0 L583,1147 Q518,1085 412,1023 Q306,961 222,930 L222,1104 Q373,1175 486,1276 Q599,1377 646,1472 L763,1472 Z" transform="translate(86.51 1907.30) scale(0.01890 -0.01890)"/>
<text x="108.03" y="1907.30" font-size="38.7">5</text>
<text x="129.55" y="1907.30" font-size="38.7">0</text>
<text x="151.08" y="1907.30" font-size="38.7">0</text>
<text x="86.51" y="1793.30" font-size="38.7">2</text>
<text x="108.03" y="1793.30" font-size="38.7">0</text>
<text x="129.55" y="1793.30" font-size="38.7">0</text>
<text x="151.08" y="1793.30" font-size="38.7">0</text>
<text x="86.51" y="1679.30" font-size="38.7">2</text>
<text x="108.03" y="1679.30" font-size="38.7">5</text>
<text x="129.55" y="1679.30" font-size="38.7">0</text>
<text x="151.08" y="1679.30" font-size="38.7">0</text>
<text x="86.51" y="1565.30" font-size="38.7">3</text>
<text x="108.03" y="1565.30" font-size="38.7">0</text>
<text x="129.55" y="1565.30" font-size="38.7">0</text>
<text x="151.08" y="1565.30" font-size="38.7">0</text>
<text x="86.51" y="1451.30" font-size="38.7">3</text>
<text x="108.03" y="1451.30" font-size="38.7">5</text>
<text x="129.55" y="1451.30" font-size="38.7">0</text>
<text x="151.08" y="1451.30" font-size="38.7">0</text>
<text x="86.51" y="1337.30" font-size="38.7">4</text>
<text x="108.03" y="1337.30" font-size="38.7">0</text>
<text x="129.55" y="1337.30" font-size="38.7">0</text>
<text x="151.08" y="1337.30" font-size="38.7">0</text>
<text x="266" y="2298.1" font-size="38.7" text-anchor="middle" >600</text>
<text x="442.3" y="2298.1" font-size="38.7" text-anchor="middle" >650</text>
<text x="618.6" y="2298.1" font-size="38.7" text-anchor="middle" >700</text>
<text x="794.9" y="2298.1" font-size="38.7" text-anchor="middle" >750</text>
<text x="971.2" y="2298.1" font-size="38.7" text-anchor="middle" >800</text>
<text x="1147.5" y="2298.1" font-size="38.7" text-anchor="middle" >850</text>
<text x="1323.8" y="2298.1" font-size="38.7" text-anchor="middle" >900</text>
<text x="579.4" y="2372" font-size="47.35" text-anchor="start" >Wavelength (nm)</text>
<text x="0" y="0" font-size="47.6" text-anchor="start" transform="translate(67 1947.8) rotate(-90)">PL intensity (a.u.)</text>
<text x="1184" y="1427" font-size="77.7" text-anchor="start" >(b)</text>
<line x1="258.8" y1="1620.1" x2="355.5" y2="1620.1" stroke="#0000ff" stroke-width="5" stroke-linecap="round"/>
<text x="367.9" y="1634.2" font-size="42.85" text-anchor="start" >8% Eu:GAP crystal - as grown</text>
<line x1="258.8" y1="1672.2" x2="355.5" y2="1672.2" stroke="#000000" stroke-width="5" stroke-linecap="round"/>
<text x="367.9" y="1686.8" font-size="42.85" text-anchor="start" >8% Eu:GAP crystal - annealed</text>
<line x1="258.8" y1="1725.3" x2="355.5" y2="1725.3" stroke="#00ff00" stroke-width="5" stroke-linecap="round"/>
<text x="367.9" y="1739.8" font-size="42.85" text-anchor="start" >8% Eu:LaGAP crystal - as grown</text>
<line x1="258.8" y1="1778.3" x2="355.5" y2="1778.3" stroke="#ff0000" stroke-width="5" stroke-linecap="round"/>
<text x="367.9" y="1792.8" font-size="42.85" text-anchor="start" >8% Eu:LaGAP crystal - annealed</text>
<g transform="translate(-334 1268.2)"><path d="M805.4,248.6 C805.0,244 806.6,241.8 809.8,241.8 C813.2,241.8 814.9,243.8 815.5,247.5 L817.6,260.5 L819.3,268.5 C820.2,273.5 821.9,276.4 824.6,276.4 C827.2,276.4 828.9,273.6 829.4,270.2" fill="none" stroke="#000" stroke-width="2.9"/><path d="M813.7,254.3 L817.6,261.5 L808.9,277.8 L803.9,277.8 Z"/></g>
<text x="0" y="0" font-size="35.6" text-anchor="start" transform="translate(495.2 1559.8) scale(1 0.93)">ex</text>
<text x="548.5" y="1545.7" font-size="51.4" text-anchor="start" >= 275 nm</text>
</svg></body></html>
